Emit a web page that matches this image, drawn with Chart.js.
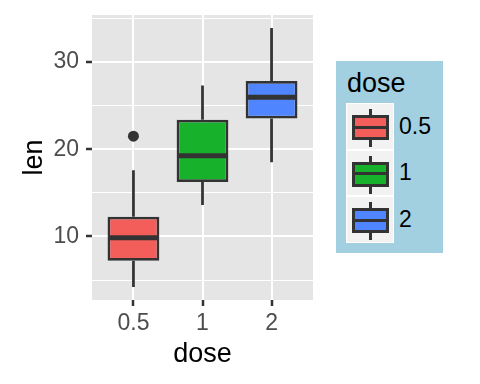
<!DOCTYPE html>
<html>
<head>
<meta charset="utf-8">
<script src="https://cdn.jsdelivr.net/npm/chart.js@4/dist/chart.umd.min.js"></script>
<style>
    body { margin: 0; background: #fff; }
    #wrap { position: relative; width: 480px; height: 384px; font-family: 'Liberation Sans', Arial, sans-serif; }
    #legend { position: absolute; left: 336px; top: 61px; width: 107px; height: 192px; background: #A2D0E1; }
    #legend .title { position: absolute; left: 11px; top: 9px; font-size: 27px; line-height: 27px; color: #000; }
    #legend .row { position: absolute; left: 10px; height: 46.67px; display: flex; align-items: center; }
    #legend .key { position: relative; width: 48px; height: 46.67px; box-sizing: border-box; border: 1px solid #fff; background: #F2F2F2; }
    #legend .whisker { position: absolute; left: 21.5px; top: 5px; width: 3px; height: 38px; background: #333; }
    #legend .box { position: absolute; left: 5px; top: 11px; width: 37px; height: 25px; box-sizing: border-box; border: 3px solid #333; }
    #legend .median { position: absolute; left: 5px; top: 21.5px; width: 37px; height: 3px; background: #333; }
    #legend .label { margin-left: 5px; font-size: 23px; color: #000; }
</style>
</head>
<body>
<div id="wrap">
    <canvas id="boxChart" width="480" height="384"></canvas>
    <div id="legend"><div class="title">dose</div></div>
</div>
<script>
/* ToothGrowth: len by dose, box statistics */
const doseLabels = ['0.5', '1', '2'];
const boxColors = ['#F35E5A', '#18B12C', '#4F86FF'];
const lowerWhisker = [4.2, 13.6, 18.5];
const q1 = [7.225, 16.25, 23.525];
const median = [9.85, 19.25, 25.95];
const q3 = [12.25, 23.375, 27.825];
const upperWhisker = [17.6, 27.3, 33.9];
const outlierDose = [1];
const outlierLen = [21.5];
const yTicks = [10, 20, 30];
const yMinor = [5, 15, 25, 35];

const FONT = "'Liberation Sans', Arial, sans-serif";
const LINE = '#333333';

/* ===== Panel background, whiskers and medians ===== */
const boxExtras = {
    id: 'boxExtras',
    beforeDraw(chart) {
        const { ctx, chartArea: a } = chart;
        ctx.save();
        ctx.fillStyle = '#E5E5E5';
        ctx.fillRect(a.left, a.top, a.right - a.left, a.bottom - a.top);
        ctx.restore();
    },
    beforeDatasetsDraw(chart) {
        const { ctx, scales: { y } } = chart;
        const bars = chart.getDatasetMeta(0).data;
        ctx.save();
        ctx.strokeStyle = LINE;
        ctx.lineWidth = 2.75;
        bars.forEach((bar, i) => {
            ctx.beginPath();
            ctx.moveTo(bar.x, y.getPixelForValue(lowerWhisker[i]));
            ctx.lineTo(bar.x, y.getPixelForValue(q1[i]));
            ctx.moveTo(bar.x, y.getPixelForValue(q3[i]));
            ctx.lineTo(bar.x, y.getPixelForValue(upperWhisker[i]));
            ctx.stroke();
        });
        ctx.restore();
    },
    afterDatasetsDraw(chart) {
        const { ctx, scales: { y } } = chart;
        const bars = chart.getDatasetMeta(0).data;
        ctx.save();
        ctx.strokeStyle = LINE;
        ctx.lineWidth = 5;
        bars.forEach((bar, i) => {
            const py = y.getPixelForValue(median[i]);
            ctx.beginPath();
            ctx.moveTo(bar.x - bar.width / 2 + 1, py);
            ctx.lineTo(bar.x + bar.width / 2 - 1, py);
            ctx.stroke();
        });
        ctx.restore();
    }
};

Chart.defaults.font.family = FONT;

new Chart(document.getElementById('boxChart'), {
    type: 'bar',
    data: {
        datasets: [
            {
                label: 'len',
                data: doseLabels.map((_, i) => ({ x: i + 1, y: [q1[i], q3[i]] })),
                backgroundColor: boxColors,
                borderColor: LINE,
                borderWidth: 2.75,
                borderSkipped: false,
                barPercentage: 0.75,
                categoryPercentage: 1
            },
            {
                type: 'scatter',
                label: 'outliers',
                data: outlierDose.map((d, i) => ({ x: d, y: outlierLen[i] })),
                backgroundColor: LINE,
                borderWidth: 0,
                pointRadius: 5.5
            }
        ]
    },
    options: {
        responsive: false,
        animation: false,
        layout: { padding: { top: 15, right: 167, left: 0, bottom: 0 } },
        plugins: {
            legend: { display: false },
            tooltip: { enabled: false }
        },
        scales: {
            x: {
                type: 'linear',
                min: 0.4,
                max: 3.6,
                offset: false,
                afterBuildTicks: (scale) => {
                    scale.ticks = doseLabels.map((_, i) => ({ value: i + 1 }));
                },
                afterFit: (scale) => {
                    scale.height = 84;
                    scale.paddingLeft = 0;
                    scale.paddingRight = 0;
                },
                ticks: {
                    callback: (v) => doseLabels[v - 1],
                    font: { size: 23, family: FONT },
                    color: '#4D4D4D',
                    padding: 4,
                    maxRotation: 0
                },
                grid: {
                    offset: false,
                    color: '#FFFFFF',
                    lineWidth: 2,
                    tickColor: LINE,
                    tickLength: 6,
                    tickWidth: 2.5
                },
                border: { display: false },
                title: {
                    display: true,
                    text: 'dose',
                    font: { size: 27, family: FONT },
                    color: '#000',
                    padding: { top: 0, bottom: 13 }
                }
            },
            y: {
                min: 2.715,
                max: 35.385,
                afterBuildTicks: (scale) => {
                    scale.ticks = yMinor.concat(yTicks).sort((a, b) => a - b).map(v => ({ value: v }));
                },
                afterFit: (scale) => {
                    scale.width = 92;
                    scale.paddingTop = 0;
                    scale.paddingBottom = 0;
                },
                ticks: {
                    callback: (v) => yTicks.includes(v) ? String(v) : '',
                    font: { size: 23, family: FONT },
                    color: '#4D4D4D',
                    padding: 7
                },
                grid: {
                    color: '#FFFFFF',
                    lineWidth: (ctx) => yTicks.includes(ctx.tick.value) ? 2 : 1,
                    tickColor: (ctx) => yTicks.includes(ctx.tick.value) ? LINE : 'rgba(0,0,0,0)',
                    tickLength: 6,
                    tickWidth: 2.5
                },
                border: { display: false },
                title: {
                    display: true,
                    text: 'len',
                    font: { size: 27, family: FONT },
                    color: '#000',
                    padding: { top: 18, bottom: 0 }
                }
            }
        }
    },
    plugins: [boxExtras]
});

/* ===== Legend (HTML) ===== */
const legend = document.getElementById('legend');
doseLabels.forEach((lab, i) => {
    const row = document.createElement('div');
    row.className = 'row';
    row.style.top = (42 + i * 46.67) + 'px';
    row.innerHTML =
        '<div class="key"><div class="whisker"></div>' +
        '<div class="box" style="background:' + boxColors[i] + '"></div>' +
        '<div class="median"></div></div>' +
        '<span class="label">' + lab + '</span>';
    legend.appendChild(row);
});
</script>
</body>
</html>
